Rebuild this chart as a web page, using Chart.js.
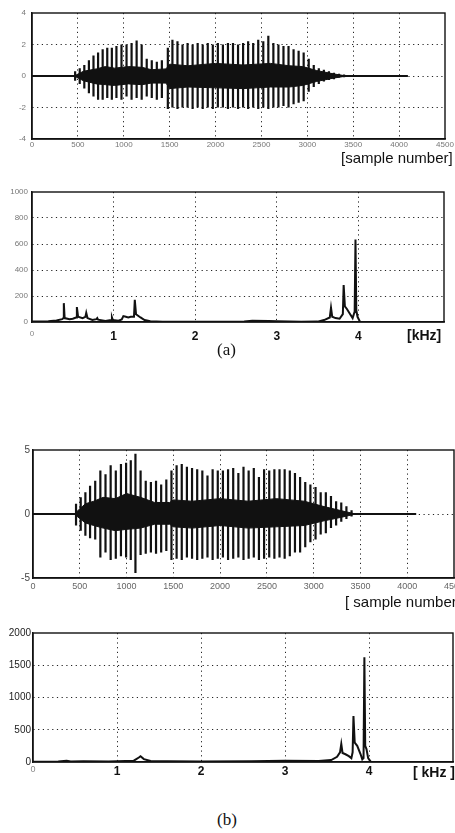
<!DOCTYPE html>
<html>
<head>
<script src="https://cdn.jsdelivr.net/npm/chart.js@4.4.1/dist/chart.umd.min.js"></script>
<style>
html, body { margin:0; overflow:hidden; }
body { width:455px; height:833px; background:#fff; position:relative; }
canvas { position:absolute; left:0; }
.lbl { position:absolute; white-space:nowrap; font-family:"Liberation Sans", Arial, sans-serif; color:#111; line-height:1; }
.cap { position:absolute; white-space:nowrap; font-family:"Liberation Serif", "Times New Roman", serif; color:#111; line-height:1; font-size:17px; }
</style>
</head>
<body>

<canvas id="waveA" width="455" height="160" style="top:0"></canvas>
<canvas id="specA" width="455" height="165" style="top:180px"></canvas>
<canvas id="waveB" width="480" height="160" style="top:440px"></canvas>
<canvas id="specB" width="480" height="165" style="top:620px"></canvas>

<div class="lbl" style="left:341px;top:150px;font-size:15px">[sample number]</div>
<div class="lbl" style="left:407px;top:328px;font-size:14px;font-weight:bold">[kHz]</div>
<div class="cap" style="left:217px;top:341px">(a)</div>
<div class="lbl" style="left:345px;top:594px;font-size:15px">[ sample number ]</div>
<div class="lbl" style="left:413px;top:765px;font-size:14px;font-weight:bold">[ kHz ]</div>
<div class="cap" style="left:217px;top:811px">(b)</div>

<script>
// ---- tick labels ----
const sampleTicks = [0, 500, 1000, 1500, 2000, 2500, 3000, 3500, 4000, 4500];
const kHzTicks = [0, 1, 2, 3, 4];
const waveATicks = [-4, -2, 0, 2, 4];
const specATicks = [0, 200, 400, 600, 800, 1000];
const waveBTicks = [-5, 0, 5];
const specBTicks = [0, 500, 1000, 1500, 2000];

const signalLength = 4096;

// ---- (a) waveform: pitch pulses (sample, positive peak, negative peak) ----
const pulseA_x = [470,520,570,620,670,720,770,820,870,920,975,1030,1085,1140,1195,1250,1305,1360,1415,1480,
  1530,1585,1640,1695,1750,1805,1860,1915,1970,2025,2080,2135,2190,2245,2300,2355,2410,2465,2520,2575,
  2630,2685,2740,2795,2850,2905,2960,3015,3070,3125,3180,3235,3290,3345,3400];
const pulseA_hi = [0.3,0.5,0.7,1.0,1.3,1.5,1.7,1.8,1.8,1.9,2.0,2.0,2.1,2.25,2.0,1.1,1.0,0.9,1.0,1.8,
  2.3,2.2,2.0,2.1,2.0,2.1,2.0,2.1,2.0,2.1,2.0,2.1,2.1,2.0,2.1,2.2,2.1,2.3,2.2,2.55,
  2.1,2.0,1.9,1.9,1.7,1.6,1.5,1.1,0.7,0.5,0.4,0.3,0.2,0.15,0.1];
const pulseA_lo = [-0.3,-0.5,-0.8,-1.1,-1.3,-1.5,-1.5,-1.4,-1.5,-1.4,-1.5,-1.3,-1.5,-1.4,-1.5,-1.3,-1.4,-1.5,-1.4,-2.1,
  -2.0,-2.1,-2.0,-2.0,-2.1,-2.0,-2.1,-2.0,-2.1,-2.0,-2.0,-2.1,-2.0,-2.1,-2.0,-2.1,-2.0,-2.1,-2.0,-2.1,
  -2.0,-2.0,-1.9,-2.0,-1.8,-1.7,-1.6,-1.0,-0.7,-0.5,-0.35,-0.25,-0.2,-0.1,-0.08];
// dense core band between the pulses
const coreA_x  = [460, 560, 700, 800, 900, 1050, 1200, 1300, 1460, 1500, 1700, 2000, 2300, 2600, 2800, 2950, 3100, 3300, 3430];
const coreA_hi = [0, 0.3, 0.45, 0.6, 0.5, 0.6, 0.55, 0.4, 0.45, 0.75, 0.65, 0.8, 0.7, 0.8, 0.65, 0.6, 0.35, 0.12, 0];
const coreA_lo = [0, -0.3, -0.5, -0.55, -0.6, -0.5, -0.55, -0.45, -0.45, -0.8, -0.7, -0.75, -0.8, -0.7, -0.7, -0.6, -0.35, -0.12, 0];

// ---- (a) spectrum ----
const specA_f = [0,0.2,0.3,0.37,0.385,0.39,0.40,0.46,0.5,0.54,0.55,0.565,0.62,0.655,0.665,0.68,0.74,0.79,0.80,0.81,
  0.9,0.97,0.98,0.99,1.06,1.1,1.12,1.15,1.18,1.21,1.25,1.26,1.275,1.33,1.38,1.45,1.6,2.0,2.6,2.7,
  2.9,3.0,3.3,3.5,3.58,3.65,3.665,3.68,3.72,3.77,3.81,3.82,3.835,3.86,3.9,3.93,3.955,3.965,3.975,3.99,4.02];
const specA_m = [3,5,12,22,30,145,30,22,25,35,115,40,30,40,70,30,15,22,30,18,
  8,15,35,15,10,20,45,40,35,40,40,170,60,35,15,5,2,2,4,10,
  8,6,2,3,15,35,110,40,30,25,60,285,120,100,60,30,80,635,90,40,3];

// ---- (b) waveform ----
const pulseB_x = [460,510,560,610,665,720,775,830,885,940,995,1045,1095,1150,1205,1260,1315,1370,1425,1480,
  1535,1590,1645,1700,1755,1810,1865,1920,1975,2030,2085,2140,2195,2250,2305,2360,2415,2470,2525,2580,
  2635,2690,2745,2800,2855,2910,2965,3020,3075,3130,3185,3240,3295,3350,3405];
const pulseB_hi = [0.8,1.3,1.7,2.2,2.6,3.4,3.1,3.8,3.4,3.9,4.0,4.2,4.7,3.4,2.6,2.5,2.6,2.3,2.7,3.4,
  3.8,3.9,3.7,3.6,3.5,3.4,3.0,3.5,3.4,3.4,3.5,3.6,3.2,3.7,3.4,3.6,2.9,3.5,3.4,3.5,
  3.5,3.5,3.4,3.2,2.9,2.5,2.3,2.1,1.7,1.7,1.4,1.0,0.9,0.6,0.3];
const pulseB_lo = [-0.9,-1.3,-1.7,-1.9,-2.0,-3.4,-3.0,-3.6,-3.5,-3.3,-3.4,-3.6,-4.6,-3.2,-3.1,-3.0,-3.1,-3.0,-2.9,-3.6,
  -3.5,-3.6,-3.4,-3.5,-3.6,-3.5,-3.4,-3.6,-3.5,-3.4,-3.6,-3.5,-3.4,-3.6,-3.5,-3.4,-3.6,-3.5,-3.4,-3.5,
  -3.4,-3.5,-3.3,-3.0,-3.0,-2.6,-2.2,-2.0,-1.6,-1.5,-1.1,-0.9,-0.6,-0.4,-0.2];
const coreB_x  = [440, 560, 650, 750, 880, 1000, 1150, 1300, 1460, 1500, 1700, 2000, 2300, 2600, 2900, 3100, 3300, 3450];
const coreB_hi = [0, 0.8, 1.0, 1.3, 1.2, 1.6, 1.3, 0.9, 0.9, 1.1, 1.0, 1.2, 1.0, 1.2, 1.0, 0.6, 0.25, 0];
const coreB_lo = [0, -0.7, -0.9, -1.1, -1.3, -1.2, -1.1, -0.8, -0.8, -1.0, -1.1, -0.9, -1.1, -1.0, -0.9, -0.55, -0.25, 0];

// ---- (b) spectrum ----
const specB_f = [0,0.3,0.4,0.45,0.6,0.9,1.0,1.2,1.26,1.28,1.32,1.4,1.6,2.0,2.6,3.0,3.4,3.55,3.62,3.655,
  3.67,3.685,3.72,3.76,3.79,3.805,3.815,3.83,3.86,3.9,3.92,3.935,3.945,3.955,3.97,3.99,4.02];
const specB_m = [5,8,18,8,10,8,12,20,70,90,45,15,10,8,12,18,15,30,80,150,
  280,140,120,90,60,150,712,300,250,120,40,60,1625,250,200,60,5];

Chart.defaults.font.family = '"Liberation Sans", Arial, sans-serif';

// box round the plot area
const framePlugin = {
  id: 'frame',
  afterDatasetsDraw(chart) {
    const { ctx, chartArea: a } = chart;
    ctx.save();
    ctx.strokeStyle = '#111';
    ctx.lineWidth = 1.4;
    ctx.strokeRect(a.left, a.top, a.right - a.left, a.bottom - a.top);
    ctx.restore();
  }
};

function xy(xs, ys) {
  return xs.map((x, i) => ({ x: x, y: ys[i] }));
}

// each pulse is a vertical stroke from its positive to its negative peak
function pulses(xs, hi, lo) {
  const pts = [];
  xs.forEach((x, i) => { pts.push({ x: x, y: hi[i] }, { x: x, y: lo[i] }, { x: x, y: null }); });
  return pts;
}

function axis(min, max, tickVals, size, isX, font, color, pad, labelFn) {
  return {
    type: 'linear', min: min, max: max,
    afterBuildTicks: s => { s.ticks = tickVals.map(v => ({ value: v })); },
    afterFit: s => { if (isX) s.height = size; else s.width = size; },
    ticks: {
      font: font, color: color, padding: pad, maxRotation: 0, autoSkip: false,
      callback: labelFn || (v => String(v))
    },
    grid: {
      drawTicks: false, lineWidth: 1,
      color: c => (c.tick && (c.tick.value === min || c.tick.value === max)) ? 'rgba(0,0,0,0)' : '#222'
    },
    border: { display: true, color: '#111', width: 1.4, dash: [1.2, 3.5] }
  };
}

function makeChart(id, datasets, xScale, yScale, pad) {
  return new Chart(document.getElementById(id), {
    type: 'line',
    data: { datasets: datasets },
    options: {
      responsive: false, devicePixelRatio: 1, animation: false, events: [],
      layout: { padding: pad },
      plugins: { legend: { display: false }, tooltip: { enabled: false } },
      elements: { point: { radius: 0 }, line: { tension: 0 } },
      scales: { x: xScale, y: yScale }
    },
    plugins: [framePlugin]
  });
}

function waveSets(px, hi, lo, cx, chi, clo) {
  return [
    { data: [{ x: 0, y: 0 }, { x: signalLength, y: 0 }], borderColor: '#111', borderWidth: 2 },
    { data: xy(cx, chi), borderColor: '#111', borderWidth: 1, fill: false },
    { data: xy(cx, clo), borderColor: '#111', borderWidth: 1, fill: '-1', backgroundColor: '#111' },
    { data: pulses(px, hi, lo), borderColor: '#111', borderWidth: 2.2, spanGaps: false }
  ];
}

const smallGrey = { size: 8 };

makeChart('waveA',
  waveSets(pulseA_x, pulseA_hi, pulseA_lo, coreA_x, coreA_hi, coreA_lo),
  axis(0, 4500, sampleTicks, 21, true, smallGrey, '#777', 1),
  axis(-4, 4, waveATicks, 32, false, smallGrey, '#777', 6),
  { top: 13, right: 10 });

makeChart('specA',
  [{ data: xy(specA_f, specA_m), borderColor: '#111', borderWidth: 2 }],
  axis(0, 5.05, kHzTicks, 23, true,
    c => (c.tick && c.tick.value === 0) ? { size: 8 } : { size: 12, weight: 'bold' },
    c => (c.tick && c.tick.value === 0) ? '#888' : '#111', 7),
  axis(0, 1000, specATicks, 32, false, smallGrey, '#777', 4),
  { top: 12, right: 11 });

makeChart('waveB',
  waveSets(pulseB_x, pulseB_hi, pulseB_lo, coreB_x, coreB_hi, coreB_lo),
  axis(0, 4500, sampleTicks, 22, true, { size: 9 }, '#666', 3),
  axis(-5, 5, waveBTicks, 33, false, { size: 10 }, '#444', 3),
  { top: 10, right: 26 });

makeChart('specB',
  [{ data: xy(specB_f, specB_m), borderColor: '#111', borderWidth: 2 }],
  axis(0, 5, kHzTicks, 23, true,
    c => (c.tick && c.tick.value === 0) ? { size: 9 } : { size: 12, weight: 'bold' },
    c => (c.tick && c.tick.value === 0) ? '#888' : '#111', 2),
  axis(0, 2000, specBTicks, 33, false, { size: 10 }, '#222', 2),
  { top: 13, right: 27 });
</script>

</body>
</html>
